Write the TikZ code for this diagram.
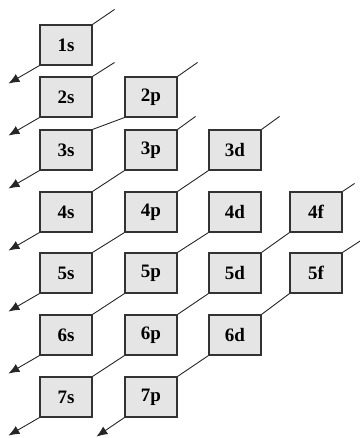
\documentclass[tikz,border=0pt]{standalone}
\usepackage{fontspec}
\setmainfont{Liberation Serif}
\usetikzlibrary{arrows.meta}

\begin{document}
\begin{tikzpicture}[x=1pt,y=-1pt,
        orb/.style={draw=black!80, fill=black!10, line width=1.1pt, minimum width=52pt, minimum height=40pt, inner sep=0pt, font=\fontsize{19}{21}\selectfont\bfseries},
        diag/.style={line width=0.9pt, black!85},
        outarrow/.style={diag, -{Latex[length=11pt,width=9pt]}}]
        \useasboundingbox (0,0) rectangle (359,438);
        % s column
        \node[orb] (o1s) at (66,45)  {1s};
        \node[orb] (o2s) at (66,97)  {2s};
        \node[orb] (o3s) at (66,150) {3s};
        \node[orb] (o4s) at (66,212) {4s};
        \node[orb] (o5s) at (66,273) {5s};
        \node[orb] (o6s) at (66,335) {6s};
        \node[orb] (o7s) at (66,397) {7s};
        % p column
        \node[orb] (o2p) at (151,97)  {2p};
        \node[orb] (o3p) at (151,150) {3p};
        \node[orb] (o4p) at (151,212) {4p};
        \node[orb] (o5p) at (151,273) {5p};
        \node[orb] (o6p) at (151,335) {6p};
        \node[orb] (o7p) at (151,397) {7p};
        % d column
        \node[orb] (o3d) at (235,150) {3d};
        \node[orb] (o4d) at (235,212) {4d};
        \node[orb] (o5d) at (235,273) {5d};
        \node[orb] (o6d) at (235,335) {6d};
        % f column
        \node[orb] (o4f) at (316,212) {4f};
        \node[orb] (o5f) at (316,273) {5f};

        % upper ends
        \draw[diag] (o1s.north east) -- +(22,-15);
        \draw[diag] (o2s.north east) -- +(22,-14);
        \draw[diag] (o2p.north east) -- +(20,-14);
        \draw[diag] (o3p.north east) -- +(18,-13);
        \draw[diag] (o3d.north east) -- +(18,-13);
        \draw[diag] (o4f.north east) -- +(12,-8);
        \draw[diag] (o5f.north east) -- +(20,-13);

        % diagonals
        \draw[diag] (o2p.south west) -- (o3s.north east);
        \draw[diag] (o3p.south west) -- (o4s.north east);
        \draw[diag] (o3d.south west) -- (o4p.north east);
        \draw[diag] (o4p.south west) -- (o5s.north east);
        \draw[diag] (o4d.south west) -- (o5p.north east);
        \draw[diag] (o5p.south west) -- (o6s.north east);
        \draw[diag] (o4f.south west) -- (o5d.north east);
        \draw[diag] (o5d.south west) -- (o6p.north east);
        \draw[diag] (o6p.south west) -- (o7s.north east);
        \draw[diag] (o5f.south west) -- (o6d.north east);
        \draw[diag] (o6d.south west) -- (o7p.north east);

        % arrows out
        \draw[outarrow] (o1s.south west) -- +(-31,18);
        \draw[outarrow] (o2s.south west) -- +(-31,18);
        \draw[outarrow] (o3s.south west) -- +(-31,18);
        \draw[outarrow] (o4s.south west) -- +(-31,18);
        \draw[outarrow] (o5s.south west) -- +(-31,18);
        \draw[outarrow] (o6s.south west) -- +(-31,18);
        \draw[outarrow] (o7s.south west) -- +(-31,18);
        \draw[outarrow] (o7p.south west) -- +(-28,19);
    \end{tikzpicture}
\end{document}
